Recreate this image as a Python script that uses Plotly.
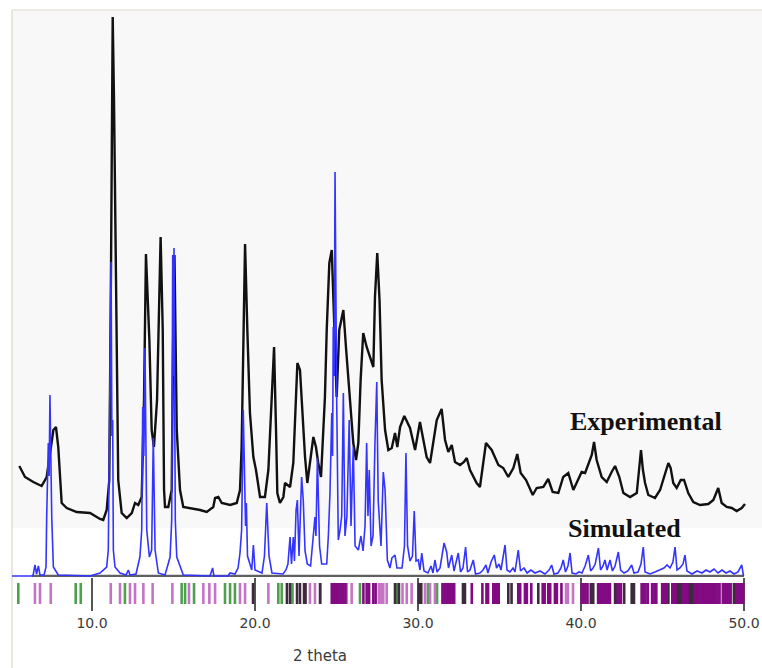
import plotly.graph_objects as go

# ---- experimental powder pattern (2-theta in degrees, intensity in a.u., offset) ----
exp_2theta = [
    5.54, 5.89, 6.40, 6.91, 7.22, 7.63, 7.79, 7.93, 8.14, 8.45, 9.06, 9.88, 10.49, 10.69,
    10.90, 11.06, 11.17, 11.27, 11.35, 11.47, 11.61, 11.82, 12.13, 12.44, 12.64, 12.84,
    13.05, 13.19, 13.31, 13.52, 13.66, 13.80, 13.99, 14.21, 14.34, 14.42, 14.48, 14.68,
    14.89, 14.97, 15.06, 15.20, 15.40, 15.60, 16.63, 17.04, 17.44, 17.55, 17.75, 17.96,
    18.47, 18.88, 19.08, 19.18, 19.29, 19.39, 19.53, 19.69, 19.90, 20.06, 20.31, 20.61,
    20.82, 20.98, 21.17, 21.29, 21.37, 21.53, 21.74, 21.84, 22.15, 22.35, 22.52, 22.60,
    22.76, 22.87, 23.07, 23.21, 23.37, 23.58, 23.74, 23.88, 24.05, 24.19, 24.29, 24.40,
    24.56, 24.71, 24.85, 25.01, 25.17, 25.32, 25.42, 25.58, 25.83, 26.03, 26.20, 26.34,
    26.48, 26.64, 26.85, 27.06, 27.26, 27.36, 27.50, 27.64, 27.77, 27.98, 28.18, 28.39,
    28.59, 28.73, 28.90, 29.16, 29.51, 29.82, 30.12, 30.33, 30.53, 30.74, 31.15, 31.45,
    31.66, 31.86, 32.07, 32.27, 32.58, 32.82, 32.99, 33.19, 33.60, 33.80, 34.17, 34.52,
    34.93, 35.23, 35.54, 35.85, 36.09, 36.30, 36.63, 37.04, 37.28, 37.69, 37.99, 38.26,
    38.61, 38.91, 39.22, 39.53, 39.83, 40.04, 40.25, 40.45, 40.66, 40.80, 40.96, 41.27,
    41.58, 41.88, 42.09, 42.35, 42.60, 43.01, 43.42, 43.56, 43.68, 43.80, 43.93, 44.13,
    44.54, 44.85, 45.15, 45.36, 45.50, 45.66, 45.87, 46.12, 46.32, 46.58, 46.89, 47.30,
    47.81, 48.12, 48.42, 48.63, 48.94, 49.25, 49.55, 49.86, 50.06,
]
exp_intensity = [
    110, 99, 94, 90, 99, 146, 149, 129, 73, 68, 64, 63, 57, 56,
    66, 96, 316, 559, 476, 276, 96, 63, 58, 63, 73, 71,
    79, 176, 322, 236, 146, 129, 176, 339, 246, 86, 69, 69,
    86, 226, 321, 146, 86, 69, 66, 64, 69, 78, 79, 73,
    71, 73, 86, 129, 246, 332, 246, 163, 119, 106, 79, 79,
    106, 156, 229, 146, 83, 73, 79, 93, 89, 113, 196, 213,
    206, 173, 119, 93, 113, 139, 129, 113, 99, 139, 179, 246,
    313, 326, 246, 179, 246, 259, 266, 229, 173, 133, 116, 133,
    196, 243, 229, 219, 209, 279, 323, 276, 196, 146, 126, 128,
    143, 129, 149, 160, 148, 126, 154, 136, 119, 113, 156, 167,
    136, 124, 131, 114, 111, 114, 118, 106, 93, 89, 133, 126,
    111, 108, 99, 108, 122, 103, 96, 81, 88, 89, 97, 84,
    83, 99, 103, 86, 96, 104, 103, 111, 121, 134, 116, 99,
    94, 104, 110, 99, 83, 79, 83, 106, 126, 106, 93, 81,
    78, 86, 103, 113, 108, 93, 88, 96, 96, 83, 74, 71,
    72, 76, 88, 73, 69, 68, 65, 68, 72,
]

# ---- simulated pattern ----
sim_2theta = [
    5.09, 6.38, 6.50, 6.60, 6.71, 6.81, 7.06, 7.18, 7.22, 7.32, 7.37, 7.42, 7.53, 7.63,
    7.93, 9.88, 10.49, 10.90, 11.00, 11.10, 11.17, 11.22, 11.27, 11.31, 11.41, 11.72,
    12.09, 12.23, 12.33, 12.70, 12.94, 13.05, 13.11, 13.18, 13.25, 13.36, 13.52, 13.66,
    13.76, 13.87, 14.07, 14.48, 14.79, 14.89, 14.95, 15.00, 15.03, 15.11, 15.20, 15.60,
    17.24, 17.40, 17.48, 18.34, 18.47, 18.77, 18.96, 19.08, 19.18, 19.28, 19.35, 19.42,
    19.47, 19.54, 19.80, 19.90, 20.00, 20.43, 20.58, 20.72, 20.86, 21.04, 21.72, 21.90,
    22.02, 22.15, 22.24, 22.35, 22.42, 22.52, 22.60, 22.70, 22.86, 22.96, 23.07, 23.21,
    23.41, 23.58, 23.68, 23.74, 23.83, 23.96, 24.09, 24.40, 24.50, 24.60, 24.71, 24.76,
    24.80, 24.86, 24.91, 25.01, 25.11, 25.21, 25.32, 25.42, 25.52, 25.64, 25.78, 25.89,
    26.03, 26.14, 26.34, 26.50, 26.63, 26.75, 26.85, 26.93, 27.01, 27.12, 27.24, 27.36,
    27.47, 27.56, 27.73, 27.87, 27.98, 28.04, 28.12, 28.28, 28.40, 28.59, 28.71, 29.02,
    29.17, 29.26, 29.36, 29.51, 29.66, 29.77, 29.88, 30.02, 30.12, 30.23, 30.37, 30.61,
    30.80, 30.92, 31.04, 31.17, 31.35, 31.60, 31.76, 31.87, 32.07, 32.21, 32.47, 32.61,
    32.76, 32.92, 33.04, 33.19, 33.39, 33.53, 33.80, 33.99, 34.17, 34.29, 34.48, 34.68,
    34.82, 34.97, 35.09, 35.34, 35.46, 35.64, 35.83, 35.95, 36.15, 36.29, 36.50, 36.69,
    36.93, 37.18, 37.48, 37.79, 38.04, 38.20, 38.34, 38.59, 38.77, 38.91, 39.05, 39.20,
    39.33, 39.45, 39.69, 39.88, 40.06, 40.25, 40.45, 40.59, 40.74, 40.87, 41.07, 41.20,
    41.35, 41.47, 41.60, 41.78, 41.93, 42.09, 42.29, 42.43, 42.64, 42.88, 43.11, 43.25,
    43.50, 43.68, 43.82, 43.93, 44.23, 44.54, 44.85, 45.09, 45.28, 45.46, 45.64, 45.77,
    45.89, 46.07, 46.26, 46.38, 46.50, 46.81, 47.12, 47.42, 47.67, 47.91, 48.16, 48.40,
    48.65, 48.90, 49.14, 49.39, 49.63, 49.86, 49.97,
]
sim_intensity = [
    0, 0, 11, 2, 10, 1, 1, 9, 59, 133, 100, 181, 59, 9,
    1, 0, 3, 9, 26, 163, 314, 140, 156, 26, 9, 3,
    1, 6, 1, 2, 19, 46, 169, 120, 228, 46, 19, 26,
    138, 26, 3, 1, 19, 56, 321, 200, 328, 56, 19, 1,
    0, 8, 0, 0, 3, 2, 8, 23, 46, 166, 96, 50,
    73, 20, 6, 31, 6, 3, 20, 73, 20, 3, 2, 6,
    12, 39, 12, 39, 15, 66, 76, 20, 99, 76, 25, 12,
    10, 46, 59, 40, 118, 30, 12, 12, 40, 83, 163, 120,
    249, 200, 404, 179, 36, 45, 60, 183, 40, 60, 156, 50,
    129, 30, 26, 40, 25, 50, 133, 60, 106, 30, 40, 133,
    194, 75, 30, 104, 86, 56, 16, 8, 18, 21, 8, 8,
    30, 123, 30, 15, 20, 65, 15, 16, 6, 23, 5, 3,
    10, 3, 16, 4, 8, 33, 24, 8, 21, 5, 23, 4,
    8, 29, 4, 6, 16, 2, 3, 6, 11, 3, 14, 21,
    8, 12, 6, 31, 6, 4, 8, 4, 26, 5, 8, 3,
    6, 3, 5, 2, 6, 11, 2, 3, 8, 16, 4, 10,
    23, 3, 2, 4, 3, 10, 21, 5, 8, 12, 28, 6,
    10, 16, 6, 16, 5, 10, 24, 6, 3, 5, 11, 3,
    4, 12, 29, 4, 2, 4, 6, 8, 11, 8, 14, 29,
    6, 8, 12, 21, 5, 2, 5, 3, 6, 4, 7, 3,
    6, 3, 5, 2, 4, 11, 0,
]

# ---- reflection positions (2-theta), grouped by marker colour ----
refl_green = [5.48, 9.00, 9.31, 12.02, 15.50, 15.71, 16.26, 18.16, 18.47, 18.77,
              21.43, 21.64, 22.30, 26.44, 28.71, 30.61, 31.17]
refl_magenta = [6.50, 6.81, 7.47, 11.15, 11.72, 12.33, 12.64, 13.15, 13.72, 14.93,
                15.95, 16.83, 17.20, 17.55, 19.08, 19.39, 20.82, 23.37, 23.68, 24.02,
                25.63, 25.93, 27.60, 27.72, 27.87, 28.08, 29.05, 29.31, 29.61, 30.43,
                30.74, 31.04, 39.08, 39.20, 39.51]
refl_purple = [24.71, 24.83, 24.95, 25.07, 25.19, 25.31, 25.43, 25.55, 26.65, 26.85,
               27.00, 27.26, 27.40, 31.50, 31.62, 31.74, 31.86, 31.98, 32.10, 32.22,
               33.30, 33.95, 34.20, 34.30, 34.62, 34.74, 34.86, 34.95, 36.15, 36.27,
               36.56, 36.68, 36.95, 37.65, 37.77, 37.99, 38.11, 38.40, 38.52, 38.80,
               40.04, 40.16, 40.28, 40.40, 41.05, 41.17, 41.29, 41.41, 41.53, 41.65,
               41.78, 42.20, 42.32, 42.45, 43.72, 43.84, 43.96, 44.10, 44.36, 44.50,
               44.62, 44.98, 45.10, 45.22, 45.60, 45.72, 45.84, 46.20, 46.32, 46.44,
               46.56, 46.92, 47.04, 47.16, 47.28, 47.42, 47.54, 47.66, 47.78, 47.90,
               48.02, 48.14, 48.26, 48.38, 48.50, 48.70, 48.82, 48.94, 49.06, 49.18,
               49.50, 49.62, 49.74, 49.86, 49.95]
refl_dark = [19.88, 21.96, 22.15, 22.58, 22.76, 23.01, 23.10, 23.99, 28.59, 28.83,
             30.05, 30.20, 32.76, 32.88, 35.54, 35.74, 37.38, 40.60, 40.75, 42.09,
             42.65, 43.11, 43.25, 45.36, 45.96, 46.08, 46.69, 46.80, 49.38]

tick_vals = [10, 20, 30, 40, 50]
tick_text = ["10.0", "20.0", "30.0", "40.0", "50.0"]
axis_start = 6.3

W, H = 762, 668
plot_bottom_px = 577

fig = go.Figure()

fig.add_trace(go.Scatter(
    x=exp_2theta, y=exp_intensity, mode="lines",
    line=dict(color="#111111", width=2.4), name="Experimental", showlegend=False,
))
fig.add_trace(go.Scatter(
    x=sim_2theta, y=sim_intensity, mode="lines",
    line=dict(color="#3434ff", width=1.6), name="Simulated", showlegend=False,
))

# reflection markers live in a thin strip just under the pattern
for pos, col in [(refl_green, "#4f9f4f"), (refl_magenta, "#c474c4"),
                 (refl_purple, "#820a82"), (refl_dark, "#3d2a3d")]:
    fig.add_trace(go.Scatter(
        x=pos, y=[0.5] * len(pos), mode="markers", xaxis="x", yaxis="y2",
        marker=dict(symbol="line-ns", size=19, line=dict(color=col, width=2.6)),
        showlegend=False, hoverinfo="x",
    ))

shapes = [
    # light plotting panel
    dict(type="rect", xref="paper", yref="paper", x0=12 / W, x1=1.0,
         y0=(H - 528) / H, y1=(H - 10) / H, fillcolor="#f8f8f8",
         line=dict(width=0), layer="below"),
    dict(type="line", xref="paper", yref="paper", x0=12 / W, x1=1.0,
         y0=(H - 10) / H, y1=(H - 10) / H, line=dict(color="#e8e4da", width=1.5),
         layer="below"),
    dict(type="line", xref="paper", yref="paper", x0=12 / W, x1=12 / W,
         y0=0, y1=(H - 10) / H, line=dict(color="#e2ded6", width=1.5),
         layer="below"),
    # 2-theta axis baseline
    dict(type="line", xref="x", yref="y", x0=axis_start, x1=tick_vals[-1],
         y0=0, y1=0, line=dict(color="#606060", width=2.5), layer="below"),
]

x_lo = 10 - 92 / 16.3
x_hi = 10 + (W - 92) / 16.3

fig.update_layout(
    width=W, height=H,
    margin=dict(l=0, r=0, t=0, b=0),
    paper_bgcolor="white", plot_bgcolor="rgba(0,0,0,0)",
    shapes=shapes,
    xaxis=dict(range=[x_lo, x_hi], domain=[0, 1], anchor="y", showgrid=False,
               zeroline=False, showline=False, ticks="outside", ticklen=33,
               tickwidth=2, tickcolor="#555555", tickvals=tick_vals,
               ticktext=tick_text,
               tickfont=dict(family="DejaVu Sans", size=14, color="#3a3a3a")),
    yaxis=dict(range=[-1, 576], domain=[(H - plot_bottom_px) / H, 1], visible=False),
    yaxis2=dict(range=[0, 1], domain=[(H - 604) / H, (H - 583) / H], anchor="x",
                visible=False, showgrid=False, zeroline=False),
    annotations=[
        dict(text="<b>Experimental</b>", xref="paper", yref="paper",
             x=646 / W, y=(H - 422) / H, showarrow=False, xanchor="center",
             yanchor="middle",
             font=dict(family="Liberation Serif", size=26, color="#111111")),
        dict(text="<b>Simulated</b>", xref="paper", yref="paper",
             x=624 / W, y=(H - 528.5) / H, showarrow=False, xanchor="center",
             yanchor="middle",
             font=dict(family="Liberation Serif", size=26, color="#111111")),
        dict(text="2 theta", xref="paper", yref="paper",
             x=320 / W, y=(H - 656) / H, showarrow=False, xanchor="center",
             yanchor="middle",
             font=dict(family="DejaVu Sans", size=15, color="#3a3a3a")),
    ],
)

fig.write_html("out.html")
